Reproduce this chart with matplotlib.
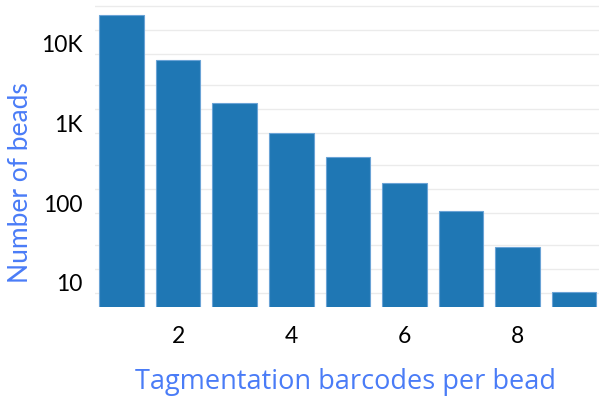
import matplotlib
matplotlib.use("Agg")
import matplotlib.pyplot as plt
from matplotlib.ticker import FixedLocator, NullFormatter

# Beads by number of tagmentation barcodes
barcodes = [1, 2, 3, 4, 5, 6, 7, 8, 9]
beads = [22800, 6200, 1790, 755, 377, 180, 80, 28, 7.6]

y_ticks = [10, 100, 1000, 10000]
y_tick_labels = ["10", "100", "1K", "10K"]
x_ticks = [2, 4, 6, 8]
grid_values = [7.5, 15, 30, 75, 150, 300, 750, 1500, 3000, 7500, 15000, 30000]

plt.rcParams["font.family"] = ["Lato", "DejaVu Sans"]

fig = plt.figure(figsize=(5.99, 3.97), dpi=100)
ax = fig.add_axes([0.1586, 0.2267, 0.8414, 0.7633])

ax.set_yscale("log")
ax.bar(barcodes, beads, width=0.79, bottom=0, color="#1f77b4",
       edgecolor="#6aa3d6", linewidth=0.8, zorder=3)

ax.set_xlim(0.53, 9.44)
ax.set_ylim(5.0, 31500)

ax.yaxis.set_major_locator(FixedLocator(y_ticks))
ax.set_yticklabels(y_tick_labels)
ax.yaxis.set_minor_locator(FixedLocator(grid_values))
ax.yaxis.set_minor_formatter(NullFormatter())
ax.set_xticks(x_ticks)
ax.set_xticklabels([str(t) for t in x_ticks])

ax.grid(False)
for v in grid_values:
    ax.axhline(v, color="#ebebeb", linewidth=1.0, zorder=1)

ax.tick_params(axis="both", which="both", length=0, labelsize=16.5, labelcolor="black")
ax.tick_params(axis="x", pad=14)
ax.tick_params(axis="y", pad=9)

for s in ax.spines.values():
    s.set_visible(False)

ax.set_xlabel("Tagmentation barcodes per bead", fontsize=19.5, color="#4a7cf7",
              family=["Open Sans", "DejaVu Sans"])
ax.xaxis.set_label_coords(0.498, -0.2)
ax.set_ylabel("Number of beads", fontsize=19, color="#4a7cf7")
ax.yaxis.set_label_coords(-0.124, 0.41)

fig.savefig("out.png", dpi=100)
